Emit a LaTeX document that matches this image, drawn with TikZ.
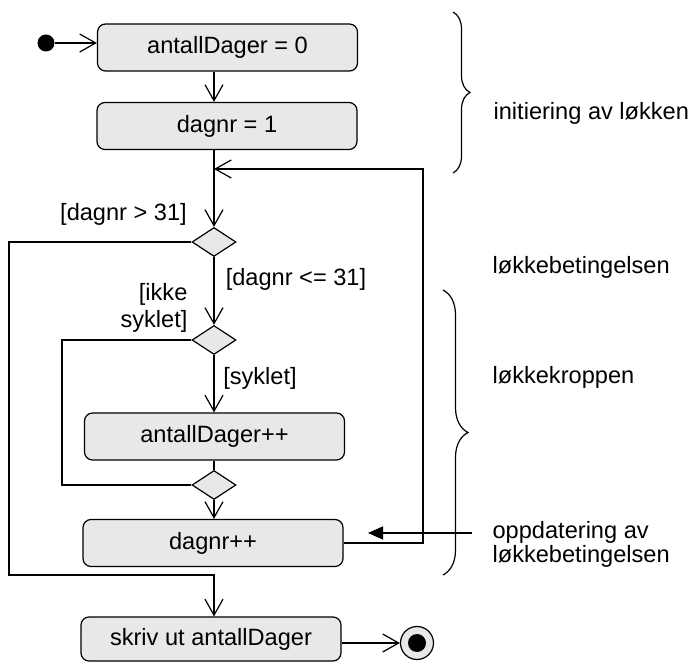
\documentclass[tikz,border=0pt]{standalone}
\usepackage{fontspec}
\setmainfont{Liberation Sans}
\usetikzlibrary{arrows.meta,shapes.geometric,decorations.pathreplacing}
\definecolor{actfill}{HTML}{E8E8E8}

\begin{document}
\begin{tikzpicture}[x=0.5pt,y=-0.5pt,
	font=\fontsize{11.8pt}{13.3pt}\selectfont,
	line width=0.6pt,
	activity/.style={draw,rounded corners=4pt,fill=actfill,minimum width=130pt,minimum height=23.5pt,inner sep=0pt},
	choice/.style={draw,diamond,fill=actfill,minimum width=22pt,minimum height=14.5pt,inner sep=0pt},
	guard/.style={inner sep=0pt},
	flow/.style={-{Straight Barb[length=8pt,width=9pt]}},
	pointer/.style={-{Triangle[length=7.5pt,width=6.5pt]}},
	loopbrace/.style={decorate,decoration={brace,amplitude=#1}},
	loopbrace/.default=8.5pt]
	\useasboundingbox (0,0) rectangle (692,662);

	% aktiviteter
	\node[circle,fill,inner sep=0pt,minimum size=8.5pt] (start) at (46,43) {};
	\node[activity] (init1) at (227.5,47.5) {antallDager = 0};
	\node[activity] (init2) at (227,126) {dagnr = 1};
	\node[choice] (d1) at (214,242) {};
	\node[choice] (d2) at (214,340) {};
	\node[activity] (incr) at (214.5,436.5) {antallDager++};
	\node[choice] (d3) at (214,485) {};
	\node[activity] (upd) at (213,543) {dagnr++};
	\node[activity,minimum height=22pt] (write) at (211,639) {skriv ut antallDager};
	\node[circle,draw,fill=actfill,inner sep=0pt,minimum size=16.5pt] (final) at (417,643) {};
	\node[circle,fill,inner sep=0pt,minimum size=9pt] (finaldot) at (final) {};

	\coordinate (spine) at (214,0);
	\coordinate (loopcorner) at (423,169);
	\coordinate (exitleft) at (9,575);
	\coordinate (skipleft) at (62,485);

	% vakter
	\node[guard] (gt) at (123.5,214) {[dagnr > 31]};
	\node[guard] (le) at (296,279) {[dagnr <= 31]};
	\node[guard,anchor=east,align=right] (notcyc) at (188,308) {[ikke\\syklet]};
	\node[guard] (cyc) at (260,378) {[syklet]};

	% kanter
	\draw[flow] (start) -- (start -| init1.west);
	\draw[flow] (init1.south -| spine) -- (init2.north -| spine);
	\draw[flow] (init2.south -| spine) -- (d1.north);
	\draw[flow] (d1.south) -- (d2.north);
	\draw[flow] (d2.south) -- (incr.north -| spine);
	\draw (incr.south -| spine) -- (d3.north);
	\draw[flow] (d3.south) -- (upd.north -| spine);
	\draw (d2.west) -| (skipleft) -- (d3.west);
	\draw[flow] (upd.east) -| (loopcorner) -- (loopcorner -| spine);
	\draw[flow] (d1.west) -| (exitleft) -- (exitleft -| spine) -- (write.north -| spine);
	\draw[flow] (write.east |- final) -- (final);

	% forklaringer
	\draw[loopbrace] (453,12) -- (453,173);
	\draw[loopbrace=12.5pt] (443,290) -- (443,575);
	\node[guard,anchor=west] (initlbl) at (493,113) {initiering av løkken};
	\node[guard,anchor=west] (condlbl) at (492,267) {løkkebetingelsen};
	\node[guard,anchor=west] (bodylbl) at (492,377) {løkkekroppen};
	\node[guard,anchor=west,align=left,font=\fontsize{11.8pt}{12pt}\selectfont] (updlbl) at (492,544) {oppdatering av\\løkkebetingelsen};
	\coordinate (updtail) at (472,533);
	\coordinate (updtip) at (368,533);
	\draw[pointer] (updtail) -- (updtip);
\end{tikzpicture}
\end{document}
